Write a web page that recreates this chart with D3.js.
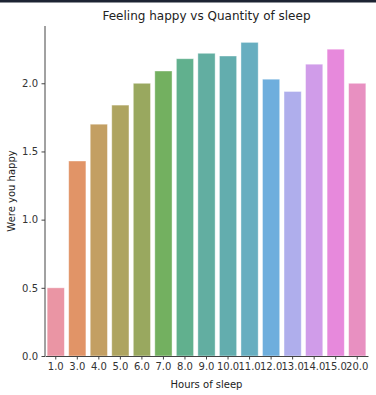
<!DOCTYPE html>
<html>
<head>
<meta charset="utf-8">
<script src="https://cdn.jsdelivr.net/npm/d3@7"></script>
<style>
    body { margin: 0; background: #fff; }
    svg { display: block; font-family: "DejaVu Sans", sans-serif; }
</style>
</head>
<body>
<svg id="chart" width="376" height="395"></svg>
<script>
// Hours of sleep (categories) and mean happiness per category
const hours = ['1.0', '3.0', '4.0', '5.0', '6.0', '7.0', '8.0', '9.0', '10.0', '11.0', '12.0', '13.0', '14.0', '15.0', '20.0'];
const happy = [0.50, 1.43, 1.70, 1.84, 2.00, 2.09, 2.18, 2.22, 2.20, 2.30, 2.03, 1.94, 2.14, 2.25, 2.00];
const yTicks = [0.0, 0.5, 1.0, 1.5, 2.0];

// --- husl -> rgb (same maths as seaborn's bundled husl module) ---
const M = [
    [3.2406, -1.5372, -0.4986],
    [-0.9689, 1.8758, 0.0415],
    [0.0557, -0.2040, 1.0570]
];
const refU = 0.19784, refV = 0.46834;

function maxChroma(L, H) {
    const hrad = H * Math.PI / 180;
    const sinH = Math.sin(hrad), cosH = Math.cos(hrad);
    const sub1 = Math.pow(L + 16, 3) / 1560896.0;
    const sub2 = sub1 > 0.008856 ? sub1 : L / 903.3;
    let result = Infinity;
    M.forEach(([m1, m2, m3]) => {
        const top = (0.99915 * m1 + 1.05122 * m2 + 1.14460 * m3) * sub2;
        const rbottom = 0.86330 * m3 - 0.17266 * m2;
        const lbottom = 0.12949 * m3 - 0.38848 * m1;
        const bottom = (rbottom * sinH + lbottom * cosH) * sub2;
        [0, 1].forEach(t => {
            const C = L * (top - 1.05122 * t) / (bottom + 0.17266 * sinH * t);
            if (C > 0 && C < result) result = C;
        });
    });
    return result;
}

function huslToRgb(H, S, L) {
    const C = maxChroma(L, H) / 100 * S;
    const hrad = H * Math.PI / 180;
    const U = Math.cos(hrad) * C, V = Math.sin(hrad) * C;
    const t = (L + 16) / 116;
    const Y = Math.pow(t, 3) > 0.008856 ? Math.pow(t, 3) : (116 * t - 16) / 903.3;
    const varU = U / (13 * L) + refU;
    const varV = V / (13 * L) + refV;
    const X = -(9 * Y * varU) / ((varU - 4) * varV - varU * varV);
    const Z = (9 * Y - 15 * varV * Y - varV * X) / (3 * varV);
    return M.map(r => {
        const c = r[0] * X + r[1] * Y + r[2] * Z;
        const v = c <= 0.0031308 ? 12.92 * c : 1.055 * Math.pow(c, 1 / 2.4) - 0.055;
        return Math.max(0, Math.min(1, v));
    });
}

function barColor(i, n) {
    const h = ((i / n) + 0.01) % 1 * 359;
    const [r, g, b] = huslToRgb(h, 0.9 * 99, 0.65 * 99);
    const c = d3.hsl(d3.rgb(r * 255, g * 255, b * 255));
    c.s *= 0.75; // seaborn barplot desaturation
    return c.formatHex();
}

const svg = d3.select('#chart');
const margin = { top: 26, right: 8, bottom: 39, left: 45 };
const width = 376 - margin.left - margin.right;
const height = 395 - margin.top - margin.bottom;

// dark strip along the top edge of the screenshot
svg.append('rect').attr('x', 0).attr('y', 0).attr('width', 376).attr('height', 2.5).attr('fill', '#1d2433');

const g = svg.append('g').attr('transform', `translate(${margin.left},${margin.top})`);

const x = d3.scaleBand().domain(hours).range([0, width]).paddingInner(0.2).paddingOuter(0.1);
const y = d3.scaleLinear().domain([0, 2.42]).range([height, 0]);

g.selectAll('rect.bar')
    .data(hours)
    .enter().append('rect')
    .attr('class', 'bar')
    .attr('x', d => x(d))
    .attr('width', x.bandwidth())
    .attr('y', (d, i) => y(happy[i]))
    .attr('height', (d, i) => y(0) - y(happy[i]))
    .attr('fill', (d, i) => barColor(i, hours.length))
    .attr('fill-opacity', 0.84)
    .attr('stroke', '#fff')
    .attr('stroke-opacity', 0.5)
    .attr('stroke-width', 0.8);

// axes
const yAxis = g.append('g')
    .call(d3.axisLeft(y).tickValues(yTicks).tickFormat(d3.format('.1f')).tickSize(3.5).tickPadding(3.5));
const xAxis = g.append('g')
    .attr('transform', `translate(0,${height})`)
    .call(d3.axisBottom(x).tickSize(3.5).tickPadding(3.5).tickSizeOuter(0));

[yAxis, xAxis].forEach(a => {
    a.select('.domain').attr('stroke', '#444').attr('stroke-width', 1);
    a.selectAll('.tick line').attr('stroke', '#444');
    a.selectAll('.tick text').attr('fill', '#333').style('font-size', '10px').style('font-family', '"DejaVu Sans", sans-serif');
});
yAxis.select('.domain').attr('d', `M0,${height}V0`);

// title and axis labels
svg.append('text')
    .attr('x', margin.left + width / 2)
    .attr('y', 20)
    .attr('text-anchor', 'middle')
    .attr('fill', '#222')
    .style('font-size', '12px')
    .text('Feeling happy vs Quantity of sleep');

svg.append('text')
    .attr('x', margin.left + width / 2)
    .attr('y', 388)
    .attr('text-anchor', 'middle')
    .attr('fill', '#222')
    .style('font-size', '10px')
    .text('Hours of sleep');

svg.append('text')
    .attr('transform', `translate(15,${margin.top + height / 2}) rotate(-90)`)
    .attr('text-anchor', 'middle')
    .attr('fill', '#222')
    .style('font-size', '10px')
    .text('Were you happy');
</script>
</body>
</html>
